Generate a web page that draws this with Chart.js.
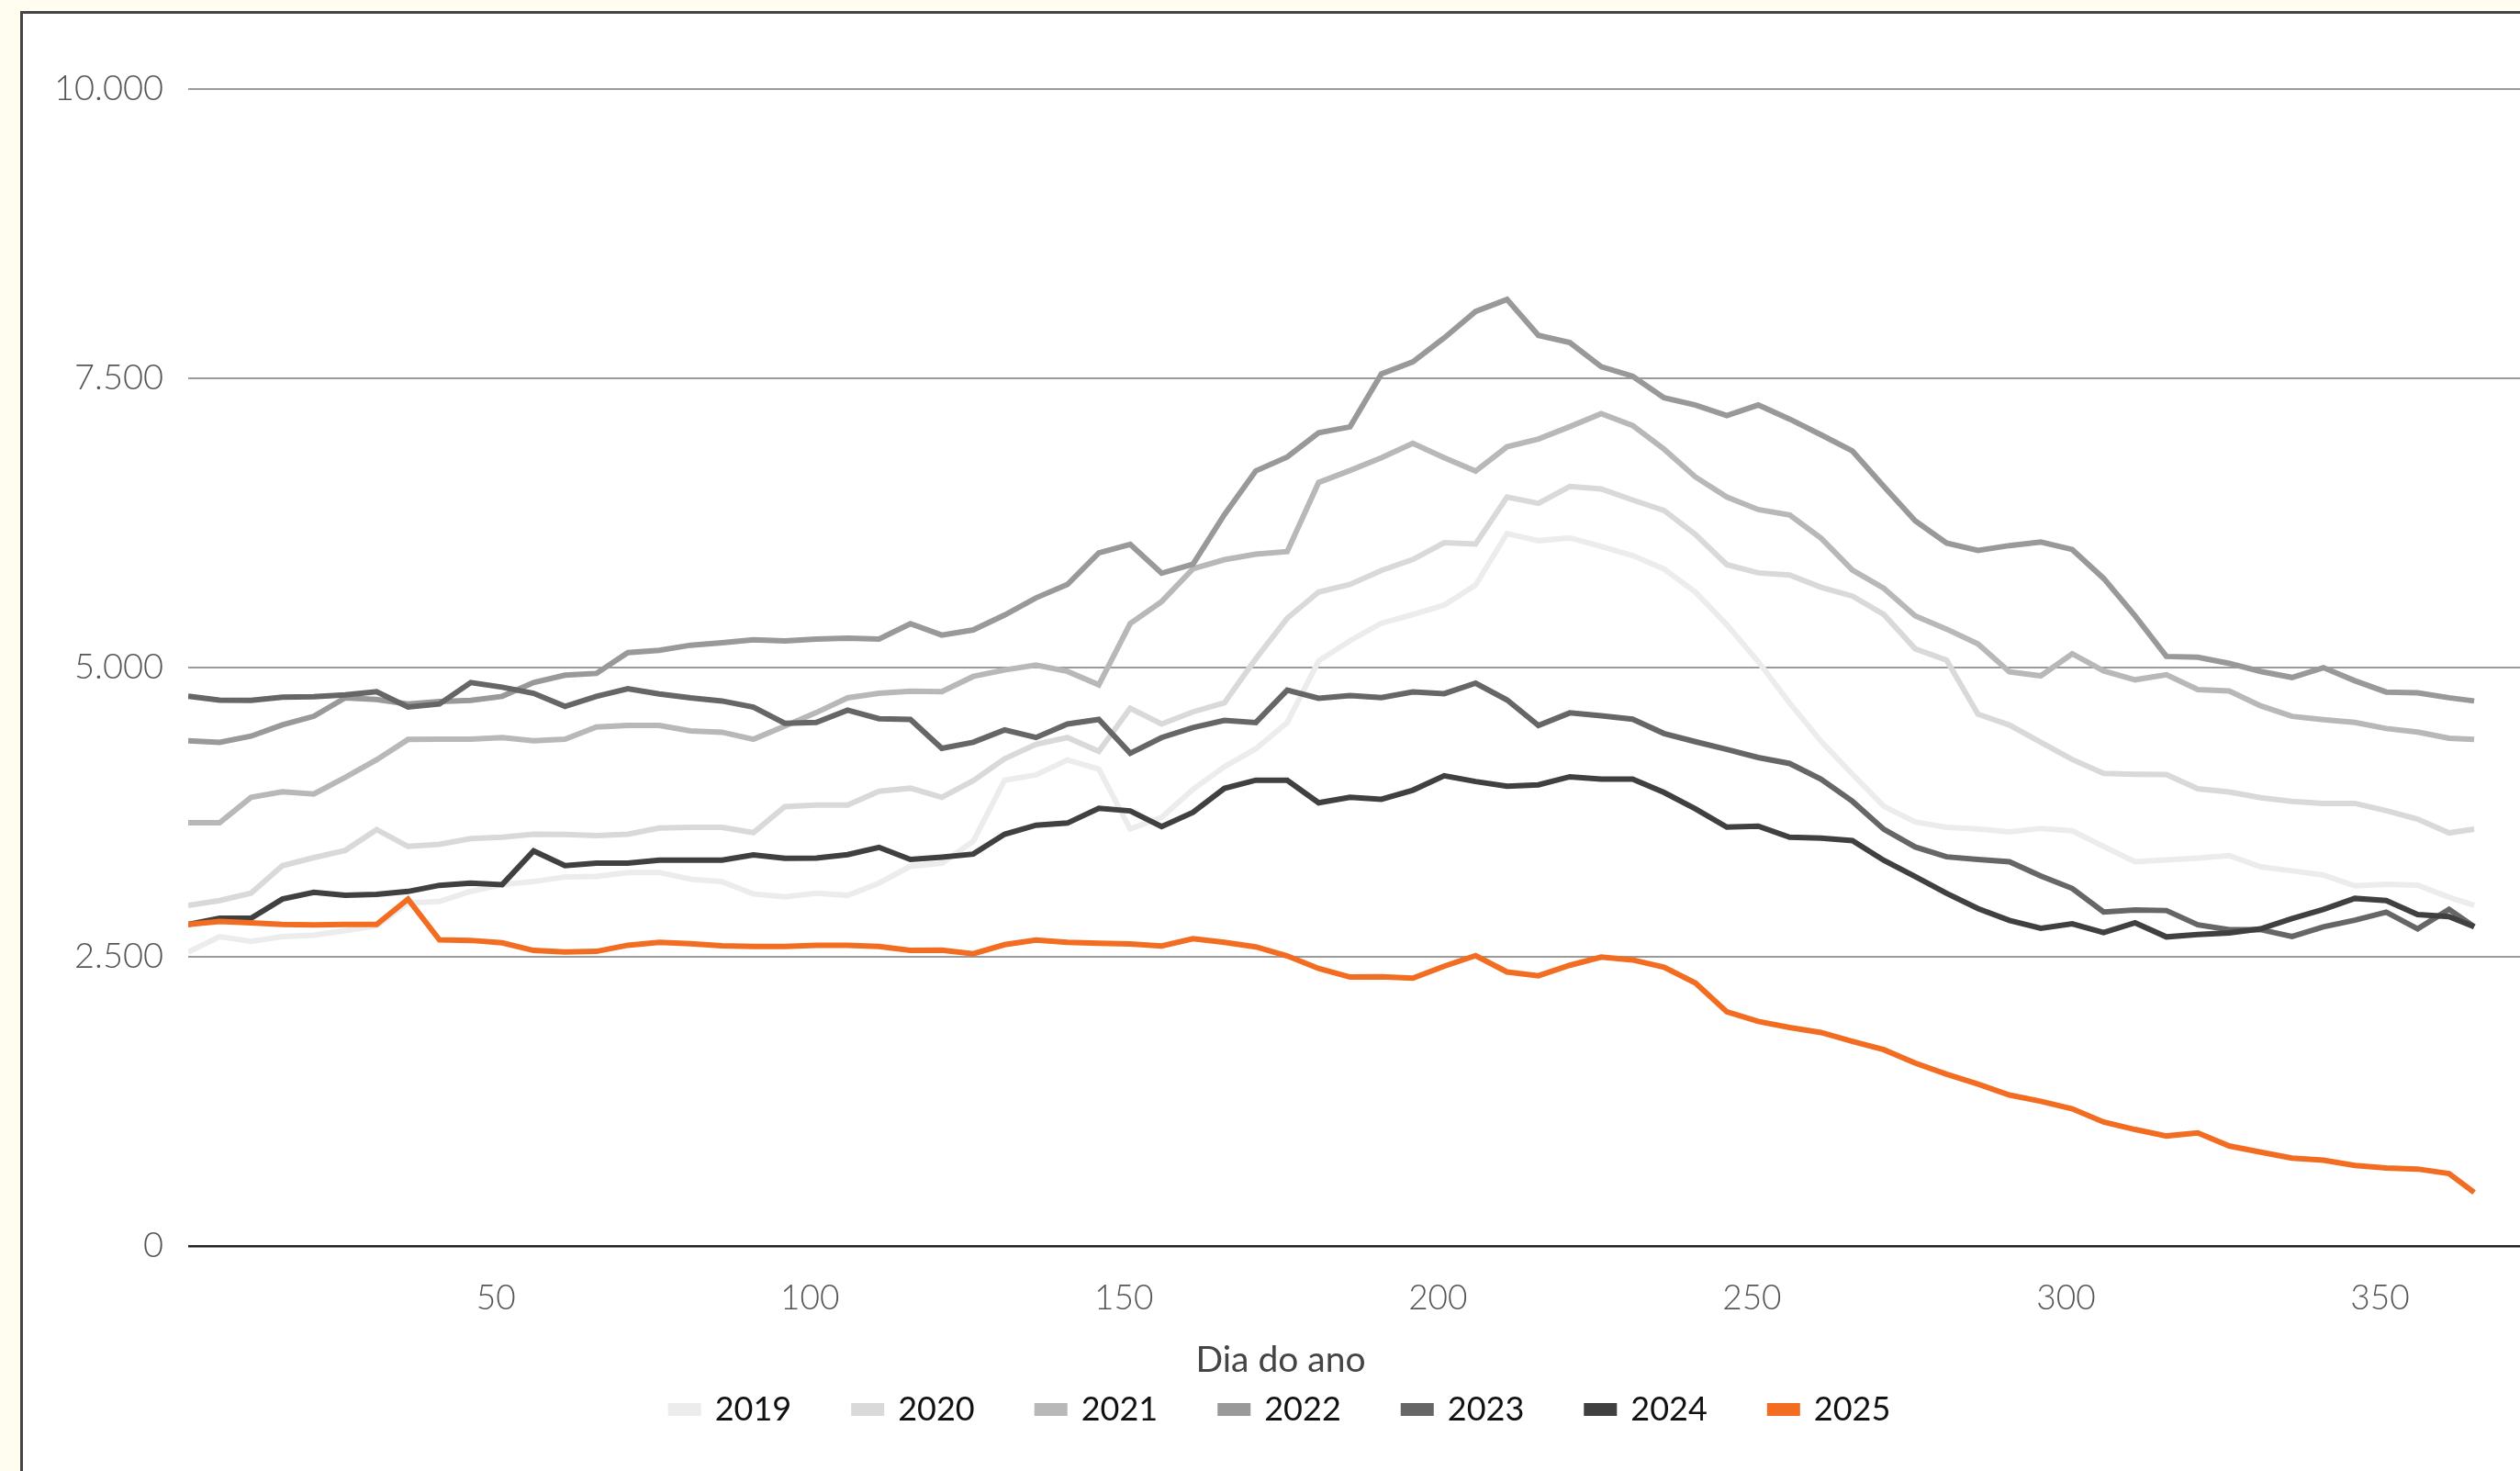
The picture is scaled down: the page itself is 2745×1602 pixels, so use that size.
<!DOCTYPE html>
<html lang="pt-BR">
<head>
<meta charset="utf-8">
<title>Dia do ano</title>
<script src="https://cdn.jsdelivr.net/npm/chart.js@4.4.1/dist/chart.umd.min.js"></script>
<style>
  html, body { margin: 0; padding: 0; width: 2745px; height: 1602px; overflow: hidden; background: #fffdf0; }
  .frame { position: absolute; left: 22px; top: 12px; width: 2800px; height: 1700px; background: #fff;
           border-left: 3px solid #454545; border-top: 3px solid #454545; }
  .chart-box { position: absolute; left: 0; top: 0; width: 2720px; height: 1587px; }
</style>
</head>
<body>
<div class="frame"><div class="chart-box"><canvas id="chart"></canvas></div></div>
<script>
// day of year (every 5th day)
const days = [1, 6, 11, 16, 21, 26, 31, 36, 41, 46, 51, 56, 61, 66, 71, 76, 81, 86, 91, 96,
  101, 106, 111, 116, 121, 126, 131, 136, 141, 146, 151, 156, 161, 166, 171, 176, 181, 186, 191, 196,
  201, 206, 211, 216, 221, 226, 231, 236, 241, 246, 251, 256, 261, 266, 271, 276, 281, 286, 291, 296,
  301, 306, 311, 316, 321, 326, 331, 336, 341, 346, 351, 356, 361, 365];

const years = ['2019', '2020', '2021', '2022', '2023', '2024', '2025'];
const colors = ['#ececec', '#d9d9d9', '#b8b8b8', '#999999', '#666666', '#404040', '#f26d21'];
const xTicks = [50, 100, 150, 200, 250, 300, 350];

const y2019 = [2543, 2675, 2635, 2675, 2688, 2728, 2768, 2966, 2979, 3067, 3125, 3151, 3191,
  3196, 3230, 3230, 3172, 3151, 3045, 3019, 3051, 3032, 3138, 3283, 3310, 3500,
  4027, 4073, 4202, 4124, 3606, 3707, 3949, 4143, 4299, 4525, 5058, 5233,
  5384, 5459, 5541, 5715, 6159, 6097, 6122, 6047, 5968, 5852, 5653, 5371, 5052,
  4695, 4363, 4079, 3802, 3666, 3620, 3607, 3581, 3611, 3590, 3454, 3322,
  3338, 3355, 3376, 3279, 3244, 3208, 3114, 3128, 3121, 3016, 2946];

const y2020 = [2945, 2987, 3051, 3289, 3358, 3421, 3601, 3455, 3474, 3522, 3535, 3561, 3559,
  3548, 3561, 3614, 3620, 3620, 3574, 3799, 3813, 3813, 3932, 3958, 3879, 4024,
  4213, 4338, 4396, 4276, 4649, 4513, 4618, 4696, 5077, 5427, 5653, 5719,
  5840, 5935, 6080, 6068, 6474, 6420, 6565, 6545, 6449, 6358, 6151, 5890, 5819,
  5800, 5694, 5618, 5460, 5163, 5065, 4597, 4504, 4355, 4206, 4087, 4079,
  4076, 3953, 3925, 3876, 3845, 3827, 3827, 3764, 3691, 3572, 3604];

const y2021 = [3659, 3659, 3879, 3927, 3908, 4051, 4204, 4379, 4381, 4381, 4395, 4368, 4381,
  4487, 4500, 4500, 4453, 4442, 4381, 4495, 4611, 4739, 4778, 4797, 4792, 4924,
  4980, 5023, 4968, 4851, 5381, 5571, 5855, 5933, 5980, 6003, 6600, 6704,
  6814, 6938, 6814, 6698, 6909, 6976, 7083, 7195, 7092, 6888, 6648, 6474, 6366,
  6319, 6119, 5843, 5686, 5448, 5333, 5205, 4963, 4929, 5120, 4971, 4895,
  4939, 4810, 4799, 4670, 4579, 4551, 4527, 4474, 4443, 4390, 4380];

const y2022 = [4368, 4355, 4408, 4506, 4580, 4739, 4725, 4686, 4707, 4718, 4752, 4871, 4935,
  4950, 5130, 5149, 5194, 5215, 5241, 5231, 5247, 5255, 5247, 5380, 5281, 5326,
  5455, 5603, 5719, 5992, 6065, 5816, 5894, 6322, 6700, 6820, 7030, 7081,
  7539, 7643, 7850, 8078, 8182, 7871, 7809, 7601, 7519, 7332, 7270, 7179, 7270,
  7148, 7012, 6872, 6566, 6268, 6077, 6013, 6055, 6085, 6021, 5771, 5448,
  5097, 5090, 5037, 4967, 4915, 5000, 4887, 4789, 4782, 4740, 4712];

const y2023 = [4752, 4720, 4718, 4744, 4749, 4765, 4792, 4660, 4686, 4871, 4831, 4778, 4665,
  4752, 4818, 4773, 4739, 4712, 4659, 4519, 4527, 4633, 4559, 4553, 4302, 4355,
  4462, 4396, 4513, 4552, 4260, 4396, 4482, 4544, 4525, 4805, 4735, 4758,
  4741, 4791, 4775, 4866, 4721, 4501, 4609, 4584, 4555, 4431, 4360, 4294, 4223,
  4172, 4036, 3845, 3603, 3450, 3365, 3343, 3322, 3199, 3092, 2889, 2905,
  2901, 2778, 2736, 2736, 2677, 2760, 2817, 2887, 2743, 2911, 2761];

const y2024 = [2781, 2834, 2834, 3000, 3059, 3032, 3040, 3066, 3119, 3138, 3125, 3416, 3289,
  3310, 3310, 3336, 3336, 3336, 3381, 3352, 3355, 3384, 3447, 3342, 3363, 3389,
  3560, 3638, 3657, 3785, 3762, 3626, 3750, 3957, 4027, 4027, 3832, 3879,
  3863, 3941, 4066, 4016, 3975, 3987, 4057, 4037, 4037, 3921, 3780, 3622, 3630,
  3535, 3526, 3505, 3335, 3194, 3050, 2918, 2816, 2748, 2786, 2710, 2795,
  2673, 2694, 2708, 2743, 2831, 2911, 3006, 2988, 2866, 2848, 2761];

const y2025 = [2781, 2807, 2794, 2781, 2776, 2781, 2781, 3000, 2648, 2643, 2622, 2556, 2543,
  2548, 2601, 2627, 2614, 2596, 2590, 2590, 2601, 2601, 2590, 2556, 2558, 2527,
  2606, 2645, 2626, 2618, 2612, 2595, 2657, 2626, 2587, 2509, 2400, 2326,
  2329, 2317, 2420, 2511, 2370, 2337, 2428, 2499, 2474, 2412, 2275, 2026, 1943,
  1890, 1847, 1771, 1698, 1583, 1486, 1401, 1307, 1252, 1188, 1073, 1009,
  953, 980, 866, 813, 761, 743, 698, 677, 667, 628, 464];

const series = [y2019, y2020, y2021, y2022, y2023, y2024, y2025];

const fontFamily = "Lato, 'Open Sans', sans-serif";
// 10000 -> "10.000"
const fmt = v => String(v).replace(/\B(?=(\d{3})+(?!\d))/g, '.');

const datasets = years.map((yr, i) => ({
  label: yr,
  data: days.map((d, j) => ({ x: d, y: series[i][j] })),
  borderColor: colors[i],
  backgroundColor: colors[i],
  borderWidth: 6,
  pointRadius: 0,
  tension: 0,
  order: years.length - 1 - i   // newest year drawn on top
}));

new Chart(document.getElementById('chart'), {
  type: 'line',
  data: { datasets: datasets },
  options: {
    responsive: true,
    maintainAspectRatio: false,
    animation: false,
    layout: { padding: { top: 82, left: 20, right: 0, bottom: 39 } },
    plugins: {
      tooltip: { enabled: false },
      legend: {
        position: 'bottom',
        labels: {
          boxWidth: 30,
          boxHeight: 8,
          padding: 68,
          color: '#111',
          font: { family: fontFamily, size: 36 },
          sort: (a, b) => a.datasetIndex - b.datasetIndex
        },
        title: {
          display: true,
          text: 'Dia do ano',
          color: '#444',
          font: { family: fontFamily, size: 39 },
          padding: { top: 27, bottom: -60 }
        }
      }
    },
    scales: {
      x: {
        type: 'linear',
        min: 1,
        max: 372.3,
        afterBuildTicks: axis => { axis.ticks = xTicks.map(v => ({ value: v })); },
        afterFit: scale => { scale.height = 78; },
        grid: { display: false, drawTicks: false },
        border: { display: false },
        ticks: {
          padding: 35,
          color: '#555',
          font: { family: fontFamily, size: 37, weight: 300, lineHeight: 1.2 }
        }
      },
      y: {
        min: 0,
        max: 10000,
        afterFit: scale => { scale.width = 160; },
        border: { display: false },
        grid: {
          drawTicks: false,
          color: c => c.tick.value === 0 ? '#222' : '#9a9a9a',
          lineWidth: c => c.tick.value === 0 ? 2.5 : 2
        },
        ticks: {
          stepSize: 2500,
          padding: 27,
          color: '#555',
          font: { family: fontFamily, size: 38, weight: 300 },
          callback: v => fmt(v)
        }
      }
    }
  }
});
</script>
</body>
</html>
